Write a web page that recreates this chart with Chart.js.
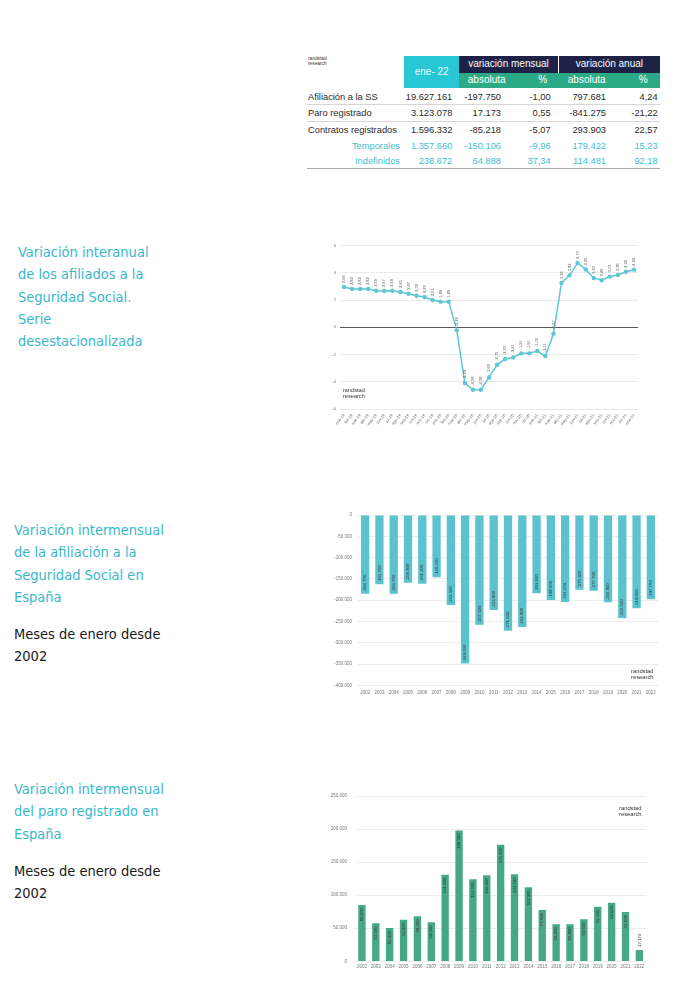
<!DOCTYPE html>
<html><head><meta charset="utf-8">
<script src="https://cdn.jsdelivr.net/npm/chart.js@4"></script>
<style>
html,body{margin:0;padding:0;background:#fff;width:700px;height:984px;overflow:hidden;}
.abs{position:absolute;}
.lt{position:absolute;font-family:'DejaVu Sans Condensed','DejaVu Sans';font-stretch:condensed;font-size:14.5px;line-height:22.3px;color:#38b9cb;white-space:nowrap;}
.bk{color:#1a1a1a;}
.tb{position:absolute;font-family:'Liberation Sans',Arial,sans-serif;font-size:9.3px;line-height:12px;color:#2a2a2a;white-space:nowrap;}
.logo{position:absolute;font-family:'Liberation Sans',Arial,sans-serif;color:#333;white-space:nowrap;}
canvas{position:absolute;}
</style></head><body>

<div class="lt" style="left:18px;top:241px;">Variación interanual<br>de los afiliados a la<br>Seguridad Social.<br>Serie<br>desestacionalizada</div>
<div class="lt" style="left:14px;top:519px;">Variación intermensual<br>de la afiliación a la<br>Seguridad Social en<br>España</div>
<div class="lt bk" style="left:14px;top:623px;">Meses de enero desde<br>2002</div>
<div class="lt" style="left:14px;top:778px;">Variación intermensual<br>del paro registrado en<br>España</div>
<div class="lt bk" style="left:14px;top:860px;">Meses de enero desde<br>2002</div>

<div id="table"></div>

<canvas id="c1" width="345" height="200" style="left:325px;top:235px;"></canvas>
<div class="logo" style="left:343px;top:388px;font-size:5.6px;line-height:5.6px;">randstad<br>research</div>

<canvas id="c2" width="340" height="200" style="left:325px;top:505px;"></canvas>
<div class="logo" style="left:631px;top:668px;font-size:5.8px;line-height:6px;">randstad<br>research</div>

<canvas id="c3" width="345" height="190" style="left:320px;top:785px;"></canvas>
<div class="logo" style="left:619px;top:805px;font-size:5.8px;line-height:6px;">randstad<br>research</div>

<script>
// ---------- DATA ----------
const tableRows = ["Afiliación a la SS","Paro registrado","Contratos registrados","Temporales","Indefinidos"];
const tableEne22 = ["19.627.161","3.123.078","1.596.332","1.357.660","238.672"];
const tableMensualAbs = ["-197.750","17.173","-85.218","-150.106","64.888"];
const tableMensualPct = ["-1,00","0,55","-5,07","-9,96","37,34"];
const tableAnualAbs = ["797.681","-841.275","293.903","179.422","114.481"];
const tableAnualPct = ["4,24","-21,22","22,57","15,23","92,18"];

const months = ["ene-19","feb-19","mar-19","abr-19","may-19","jun-19","jul-19","ago-19","sep-19","oct-19","nov-19","dic-19",
  "ene-20","feb-20","mar-20","abr-20","may-20","jun-20","jul-20","ago-20","sep-20","oct-20","nov-20","dic-20",
  "ene-21","feb-21","mar-21","abr-21","may-21","jun-21","jul-21","ago-21","sep-21","oct-21","nov-21","dic-21","ene-22"];
const afiliadosInteranual = [2.96,2.82,2.82,2.82,2.69,2.67,2.69,2.60,2.47,2.32,2.23,2.01,
  1.89,1.89,-0.22,-4.09,-4.58,-4.58,-3.68,-2.75,-2.33,-2.21,-1.91,-1.91,
  -1.74,-2.11,-0.47,3.26,3.82,4.73,4.26,3.63,3.46,3.73,3.85,4.09,4.24];
const lineTicks = [-6,-4,-2,0,2,4,6];

const years = ["2002","2003","2004","2005","2006","2007","2008","2009","2010","2011","2012",
  "2013","2014","2015","2016","2017","2018","2019","2020","2021","2022"];
const afiliacionEnero = [-184700,-162700,-184700,-158900,-161200,-146200,-211300,-349000,-257500,-223000,-271600,
  -262900,-183800,-199500,-204200,-175300,-177700,-204900,-242500,-219000,-197750];
const paroEnero = [85100,57400,50300,62900,68000,59000,131000,198000,124000,130000,176300,
  131500,111900,77600,55900,55900,63500,82600,88600,74500,17173];

// ---------- TABLE ----------
const T = document.getElementById('table');
function box(l,t,w,h,bg){const d=document.createElement('div');d.className='abs';d.style.cssText=`left:${l}px;top:${t}px;width:${w}px;height:${h}px;background:${bg};`;T.appendChild(d);}
function txt(s,x,y,align,color,size){
  const d=document.createElement('div');d.className='tb';d.textContent=s;
  let left = align==='right'? x-200 : align==='center'? x-100 : x;
  d.style.cssText+=`left:${left}px;top:${y-6}px;width:200px;text-align:${align};color:${color};`+(size?`font-size:${size}px;`:'');
  T.appendChild(d);
}
box(404,56,55.3,31.7,'#29c6d3');
box(459.3,56,98.5,16.7,'#1e2247');
box(558.8,56,101.2,16.7,'#1e2247');
box(459.3,72.7,200.7,15,'#2caa86');
box(306.7,104,353.3,0.8,'#d6d6d6');
box(306.7,120.5,353.3,0.8,'#d6d6d6');
box(306.7,168,353.3,1,'#a8a8a8');
txt("ene- 22",431.7,71.5,'center','#eefbfc',10);
txt("variación mensual",508.5,64.3,'center','#fff',10);
txt("variación anual",609.4,64.3,'center','#fff',10);
txt("absoluta",486.7,80.2,'center','#fff',10);
txt("%",542.7,80.2,'center','#fff',10);
txt("absoluta",586.7,80.2,'center','#fff',10);
txt("%",643.3,80.2,'center','#fff',10);
const rowY=[96.7,112.7,130,145.7,161];
tableRows.forEach((r,i)=>{
  const teal = i>=3; const col = teal? '#3cbfcf':'#2a2a2a';
  if(teal) txt(r,400,rowY[i],'right',col); else txt(r,308,rowY[i],'left',col);
  txt(tableEne22[i],452.3,rowY[i],'right',col);
  txt(tableMensualAbs[i],501,rowY[i],'right',col);
  txt(tableMensualPct[i],550.7,rowY[i],'right',col);
  txt(tableAnualAbs[i],606,rowY[i],'right',col);
  txt(tableAnualPct[i],657.7,rowY[i],'right',col);
});
const tl=document.createElement('div');tl.className='logo';tl.style.cssText='left:308px;top:56px;font-size:4.8px;line-height:5px;';tl.innerHTML='randstad<br>research';T.appendChild(tl);

// ---------- HELPERS ----------
function fmtThousands(v){const s=Math.round(Math.abs(v)).toString().replace(/\B(?=(\d{3})+(?!\d))/g,'.');return (v<0?'-':'')+s;}
function fmtDec(v){return v.toFixed(2).replace('.',',');}

const vLabels = {
  id:'vLabels',
  afterDatasetsDraw(chart, args, opts){
    const ctx = chart.ctx;
    const meta = chart.getDatasetMeta(0);
    const data = chart.data.datasets[0].data;
    ctx.save();
    ctx.font = opts.font; ctx.fillStyle = opts.color;
    meta.data.forEach((el,i)=>{
      const v = data[i];
      const p = opts.pos(el, v, i);
      ctx.save(); ctx.translate(p.x, p.y); ctx.rotate(-Math.PI/2);
      ctx.textAlign = p.align; ctx.textBaseline='middle';
      ctx.fillText(opts.format(v),0,0); ctx.restore();
    });
    ctx.restore();
  }
};
Chart.register(vLabels);
Chart.defaults.font.family = "'Liberation Sans', Arial, sans-serif";
Chart.defaults.animation = false;

// ---------- LINE CHART ----------
new Chart(document.getElementById('c1'),{
  type:'line',
  data:{labels:months,datasets:[{data:afiliadosInteranual,borderColor:'#5dc7d4',backgroundColor:'#5dc7d4',
    borderWidth:1.5,pointRadius:2.2,pointBackgroundColor:'#5dc7d4',pointBorderWidth:0,tension:0}]},
  options:{responsive:false,devicePixelRatio:1,
    layout:{padding:{left:0,right:32,top:10.7,bottom:0}},
    plugins:{legend:{display:false},tooltip:{enabled:false},
      vLabels:{font:"4px 'Liberation Sans', Arial",color:'#555',format:fmtDec,
        pos:(el)=>({x:el.x,y:el.y-4,align:'left'})}},
    scales:{
      y:{min:-6,max:6,afterBuildTicks:s=>{s.ticks=lineTicks.map(v=>({value:v}));},
        ticks:{font:{size:4},color:'#777',padding:4},
        grid:{color:c=>c.tick&&c.tick.value===0?'#5a5a5a':'#e4e4e4',lineWidth:c=>c.tick&&c.tick.value===0?1:0.8,drawTicks:false},
        border:{display:false},afterFit:s=>{s.width=15;}},
      x:{offset:true,grid:{display:false,drawTicks:false},border:{display:false},
        ticks:{font:{size:4},color:'#666',autoSkip:false,maxRotation:52,minRotation:52,padding:4},
        afterFit:s=>{s.height=26;}}
    }}
});

// ---------- BAR CHART AFILIACION ----------
new Chart(document.getElementById('c2'),{
  type:'bar',
  data:{labels:years,datasets:[{data:afiliacionEnero,backgroundColor:'#5ac3cd',barPercentage:0.58,categoryPercentage:1}]},
  options:{responsive:false,devicePixelRatio:1,
    layout:{padding:{left:0,right:7,top:10,bottom:0}},
    plugins:{legend:{display:false},tooltip:{enabled:false},
      vLabels:{font:"4.3px 'Liberation Sans', Arial",color:'#333',format:fmtThousands,
        pos:(el)=>({x:el.x,y:el.y-2,align:'left'})}},
    scales:{
      y:{min:-400000,max:0,ticks:{stepSize:50000,font:{size:4.5},color:'#777',padding:6,callback:v=>fmtThousands(v)},
        grid:{color:'#e8e8e8',lineWidth:0.8,drawTicks:false},border:{display:false},afterFit:s=>{s.width=33;}},
      x:{grid:{display:false,drawTicks:false},border:{display:false},
        ticks:{font:{size:4.5},color:'#777',maxRotation:0,autoSkip:false,padding:5},afterFit:s=>{s.height=19.7;}}
    }}
});

// ---------- BAR CHART PARO ----------
new Chart(document.getElementById('c3'),{
  type:'bar',
  data:{labels:years,datasets:[{data:paroEnero,backgroundColor:'#45a886',barPercentage:0.53,categoryPercentage:1}]},
  options:{responsive:false,devicePixelRatio:1,
    layout:{padding:{left:0,right:18.7,top:11,bottom:0}},
    plugins:{legend:{display:false},tooltip:{enabled:false},
      vLabels:{font:"4.3px 'Liberation Sans', Arial",color:'#333',format:fmtThousands,
        pos:(el,v)=>v<30000?({x:el.x,y:el.y-3,align:'left'}):({x:el.x,y:el.y+3,align:'right'})}},
    scales:{
      y:{min:0,max:250000,ticks:{stepSize:50000,font:{size:4.5},color:'#777',padding:8,callback:v=>fmtThousands(v)},
        grid:{color:'#e8e8e8',lineWidth:0.8,drawTicks:false},border:{display:false},afterFit:s=>{s.width=35;}},
      x:{grid:{display:false,drawTicks:false},border:{display:false},
        ticks:{font:{size:4.5},color:'#777',maxRotation:0,autoSkip:false,padding:3},afterFit:s=>{s.height=13.7;}}
    }}
});
</script>
</body></html>
